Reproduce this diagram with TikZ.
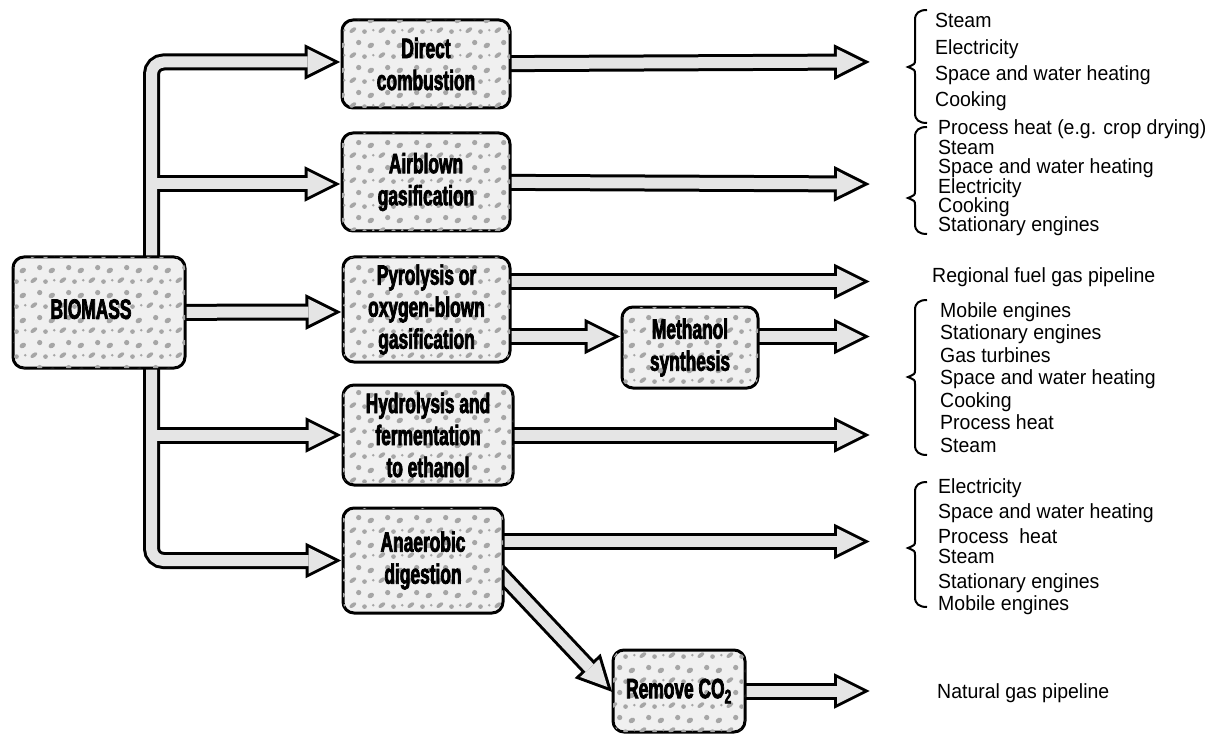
\documentclass[tikz,border=0pt]{standalone}
\usepackage{fontspec}
\usetikzlibrary{calc,patterns}
\newfontfamily\boxfont{Liberation Sans}[FakeStretch=0.62,FakeBold=2.5]
\newfontfamily\lblfont{Liberation Sans}[FakeStretch=0.95]
\definecolor{fillc}{gray}{0.90}
\definecolor{boxc}{gray}{0.94}
\pgfdeclarepatternformonly{speck}{\pgfpointorigin}{\pgfqpoint{29pt}{25pt}}{\pgfqpoint{29pt}{25pt}}{%
  \pgfpathellipse{\pgfqpoint{5pt}{5pt}}{\pgfqpoint{3.4pt}{0.9pt}}{\pgfqpoint{1.0pt}{2.8pt}}
  \pgfpathcircle{\pgfqpoint{17pt}{3.5pt}}{2.4pt}
  \pgfpathellipse{\pgfqpoint{23.5pt}{15pt}}{\pgfqpoint{3.2pt}{1.4pt}}{\pgfqpoint{-0.8pt}{2.5pt}}
  \pgfpathcircle{\pgfqpoint{11pt}{18pt}}{2.7pt}
  \pgfpathcircle{\pgfqpoint{26pt}{5pt}}{1.4pt}
  \pgfusepath{fill}}
\pgfdeclarelayer{bg}
\pgfsetlayers{bg,main}
\tikzset{
  outer/.style={line width=17pt, draw=black},
  inner/.style={line width=11pt, draw=fillc},
  headout/.style={draw=black, fill=black, line width=6pt, line join=miter},
  headin/.style={fill=fillc},
  box/.style={draw=black, line width=3pt, rounded corners=11pt, fill=boxc,
    postaction={pattern=speck, pattern color=gray!70},
    align=center, inner sep=0pt,
    font=\boxfont\bfseries\fontsize{28}{32}\selectfont},
  lbl/.style={anchor=base west, inner sep=0pt, font=\lblfont\fontsize{20.5}{24}\selectfont},
  brc/.style={line width=2pt, draw=black},
}
\newcommand\ArrShaft[3]{\draw[#1] (#2) -- ($(#3)!26pt!(#2)$);}
\newcommand\ArrHead[3]{%
  \path (#3) coordinate (hT) ($(#3)!26pt!(#2)$) coordinate (hB);
  \path[#1] (hT) -- ($(hB)!13pt!90:(hT)$) -- ($(hB)!13pt!-90:(hT)$) -- cycle;}
\newcommand\HArrow[2]{\ArrShaft{outer}{#1}{#2}\ArrHead{headout}{#1}{#2}\ArrShaft{inner}{#1}{#2}\ArrHead{headin}{#1}{#2}}
\newcommand\BracePath[3]{%
  \draw[brc] (927,#1) .. controls (919,#1) and (915,{#1+3}) .. (915,{#1+10}) -- (915,{#2-7})
    .. controls (915,{#2-3}) .. (908,#2) .. controls (915,{#2+3}) .. (915,{#2+7})
    -- (915,{#3-10}) .. controls (915,{#3-3}) and (919,#3) .. (927,#3);}
\begin{document}
\begin{tikzpicture}[x=1pt,y=-1pt]
\useasboundingbox (0,0) rectangle (1220,735);
% boxes
\node[box, minimum width=172pt, minimum height=111pt] (bio) at (99,312.5) {\raisebox{7pt}{\hspace*{-16pt}BIOMASS}};
\node[box, minimum width=168pt, minimum height=88pt] (dc) at (426,64) {Direct\\combustion};
\node[box, minimum width=168pt, minimum height=98pt] (ag) at (426,182) {Airblown\\gasification};
\node[box, minimum width=167pt, minimum height=105pt] (pyr) at (426.5,309.5) {Pyrolysis or\\oxygen-blown\\gasification};
\node[box, minimum width=136pt, minimum height=81pt] (meth) at (690,347.5) {Methanol\\synthesis};
\node[box, minimum width=170pt, minimum height=100pt] (hyd) at (428,435) {Hydrolysis and\\fermentation\\to ethanol};
\node[box, minimum width=160pt, minimum height=105pt] (ana) at (423,560.5) {Anaerobic\\digestion};
\node[box, minimum width=132pt, minimum height=82pt] (rem) at (679,691) {\raisebox{-6pt}{Remove CO\textsubscript{2}}};
% coordinates
\coordinate (trunk) at (151.5,0);
\coordinate (R) at (863,0);
\coordinate (tdc) at ($(dc.west)+(-7,-2)$);
\coordinate (tag) at ($(ag.west)+(-7,2)$);
\coordinate (tpyr) at ($(pyr.west)+(-7,2.5)$);
\coordinate (thyd) at ($(hyd.west)+(-7,0)$);
\coordinate (tana) at ($(ana.west)+(-7,0)$);
\coordinate (jdc) at (trunk |- tdc);
\coordinate (jag) at (trunk |- tag);
\coordinate (jhyd) at (trunk |- thyd);
\coordinate (jana) at (trunk |- tana);
\coordinate (sp1) at ($(pyr.center)+(0,-28)$);
\coordinate (sp2) at ($(pyr.center)+(0,27)$);
\coordinate (tmeth) at ($(meth.west)+(-7,-11)$);
\coordinate (sme) at ($(meth.center)+(0,-11)$);
\coordinate (sana) at ($(ana.center)+(0,-19)$);
\coordinate (sdg) at ($(ana.center)+(70,5)$);
\coordinate (tdg) at ($(rem.west)+(-4,-4)$);
\begin{pgfonlayer}{bg}
  % trunk system, outer pass
  \draw[outer, rounded corners=12pt] ($(tdc)!26pt!(jdc)$) -- (jdc) -- (jana) -- ($(tana)!26pt!(jana)$);
  \ArrShaft{outer}{jag}{tag}
  \ArrShaft{outer}{jhyd}{thyd}
  \ArrShaft{outer}{bio.center}{tpyr}
  \ArrHead{headout}{jdc}{tdc}
  \ArrHead{headout}{jag}{tag}
  \ArrHead{headout}{bio.center}{tpyr}
  \ArrHead{headout}{jhyd}{thyd}
  \ArrHead{headout}{jana}{tana}
  % trunk system, inner pass
  \draw[inner, rounded corners=12pt] ($(tdc)!26pt!(jdc)$) -- (jdc) -- (jana) -- ($(tana)!26pt!(jana)$);
  \ArrShaft{inner}{jag}{tag}
  \ArrShaft{inner}{jhyd}{thyd}
  \ArrShaft{inner}{bio.center}{tpyr}
  \ArrHead{headin}{jdc}{tdc}
  \ArrHead{headin}{jag}{tag}
  \ArrHead{headin}{bio.center}{tpyr}
  \ArrHead{headin}{jhyd}{thyd}
  \ArrHead{headin}{jana}{tana}
  % output arrows
  \HArrow{dc.center}{R |- tdc}
  \HArrow{ag.center}{R |- tag}
  \HArrow{sp1}{R |- sp1}
  \HArrow{sp2}{tmeth}
  \HArrow{sme}{R |- sme}
  \HArrow{hyd.center}{R |- thyd}
  \HArrow{sana}{R |- sana}
  \HArrow{sdg}{tdg}
  \HArrow{rem.center}{R |- rem.center}
\end{pgfonlayer}
% braces
\BracePath{10}{67}{123}
\BracePath{127}{198}{234}
\BracePath{300}{377}{455}
\BracePath{482}{548}{607}
% labels
\foreach \t [count=\i] in {Steam, Electricity, Space and water heating, Cooking}
  \node[lbl] (ga\i) at (935,{28+26.3*(\i-1)}) {\t};
\foreach \t [count=\i] in {{Process heat (e.g. crop drying)}, Steam, Space and water heating, Electricity, Cooking, Stationary engines}
  \node[lbl] (gb\i) at (938,{135+19.4*(\i-1)}) {\t};
\node[lbl] (reg) at (932,282) {Regional fuel gas pipeline};
\foreach \t [count=\i] in {Mobile engines, Stationary engines, Gas turbines, Space and water heating, Cooking, Process heat, Steam}
  \node[lbl] (gc\i) at (940,{317+22.5*(\i-1)}) {\t};
\foreach \y/\t [count=\i] in {493/Electricity, 518/Space and water heating, 543/Process\ \ heat, 563/Steam, 588/Stationary engines, 610/Mobile engines}
  \node[lbl] (gd\i) at (938,\y) {\t};
\node[lbl] (nat) at (937,698) {Natural gas pipeline};
\end{tikzpicture}
\end{document}
